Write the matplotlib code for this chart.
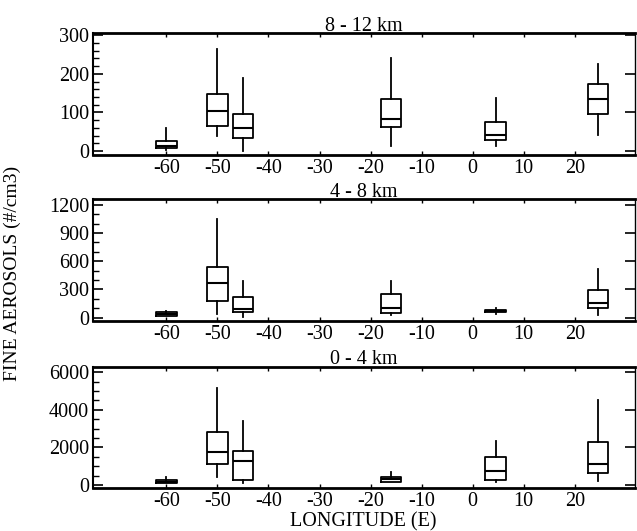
import matplotlib
matplotlib.use("Agg")
import matplotlib.pyplot as plt
from matplotlib.ticker import MultipleLocator

plt.rcParams['font.family'] = ['Liberation Serif', 'DejaVu Serif']

positions = [-60, -50, -45, -16, 4.5, 24.5]
xticks = [-60, -50, -40, -30, -20, -10, 0, 10, 20]

titles = ["8 - 12 km", "4 - 8 km", "0 - 4 km"]

# panel 8-12 km
p1_whislo = [4, 38, 1, 12, 13, 42]
p1_q1 = [7, 65, 34, 63, 29, 96]
p1_med = [12, 103, 60, 82, 42, 135]
p1_q3 = [27, 148, 96, 135, 75, 174]
p1_whishi = [60, 265, 188, 242, 138, 226]

# panel 4-8 km
p2_whislo = [21, 36, 11, 29, 43, 29]
p2_q1 = [21, 182, 61, 54, 55, 107]
p2_med = [43, 364, 93, 100, 70, 157]
p2_q3 = [64, 543, 218, 254, 82, 296]
p2_whishi = [75, 1054, 386, 386, 100, 521]

# panel 0-4 km
p3_whislo = [89, 444, 89, 142, 142, 231]
p3_q1 = [89, 1118, 266, 142, 266, 621]
p3_med = [178, 1740, 1296, 302, 746, 1100]
p3_q3 = [266, 2840, 1829, 444, 1509, 2290]
p3_whishi = [444, 5148, 3408, 710, 2361, 4527]

panels = [
    (p1_whislo, p1_q1, p1_med, p1_q3, p1_whishi),
    (p2_whislo, p2_q1, p2_med, p2_q3, p2_whishi),
    (p3_whislo, p3_q1, p3_med, p3_q3, p3_whishi),
]
yticks = [[0, 100, 200, 300], [0, 300, 600, 900, 1200], [0, 2000, 4000, 6000]]
yminor = [20, 100, 500]
ylims = [(-10, 305), (-36, 1260), (-180, 6300)]

fig = plt.figure(figsize=(6.37, 5.31), dpi=100)
left, width = 0.1465, 0.8505
bottoms = [0.7081, 0.3955, 0.0804]
height = 0.2292

for i, (wl, q1, md, q3, wh) in enumerate(panels):
    ax = fig.add_axes([left, bottoms[i], width, height])
    stats = []
    for j in range(len(positions)):
        stats.append(dict(whislo=wl[j], q1=q1[j], med=md[j], q3=q3[j],
                          whishi=wh[j], fliers=[]))
    ax.bxp(stats, positions=positions, widths=4, showcaps=False,
           showfliers=False, manage_ticks=False,
           boxprops=dict(color='black', linewidth=1.3),
           whiskerprops=dict(color='black', linewidth=1.3),
           medianprops=dict(color='black', linewidth=1.5))
    ax.set_xlim(-74.3, 31.8)
    ax.set_ylim(*ylims[i])
    ax.set_xticks(xticks)
    ax.set_xticklabels([str(v) for v in xticks], fontsize=14.5)
    ax.set_yticks(yticks[i])
    ax.set_yticklabels([str(v) for v in yticks[i]], fontsize=14.5)
    ax.yaxis.set_minor_locator(MultipleLocator(yminor[i]))
    ax.tick_params(axis='x', which='major', direction='in', top=True,
                   bottom=True, length=3, width=1, pad=3)
    ax.tick_params(axis='y', which='major', direction='in', left=True,
                   right=True, length=7, width=1.2, pad=3)
    ax.tick_params(axis='y', which='minor', direction='in', left=True,
                   right=False, length=4, width=1)
    for s in ['top', 'bottom']:
        ax.spines[s].set_linewidth(2.0)
    ax.spines['left'].set_linewidth(1.5)
    ax.spines['right'].set_linewidth(1.0)
    ax.set_title(titles[i], fontsize=14.5, pad=2)

fig.text(0.019, 0.485, "FINE AEROSOLS (#/cm3)", rotation=90, fontsize=14,
         ha='center', va='center')
fig.text(0.57, 0.018, "LONGITUDE (E)", fontsize=14.5, ha='center', va='center')

fig.savefig("out.png", dpi=100)
